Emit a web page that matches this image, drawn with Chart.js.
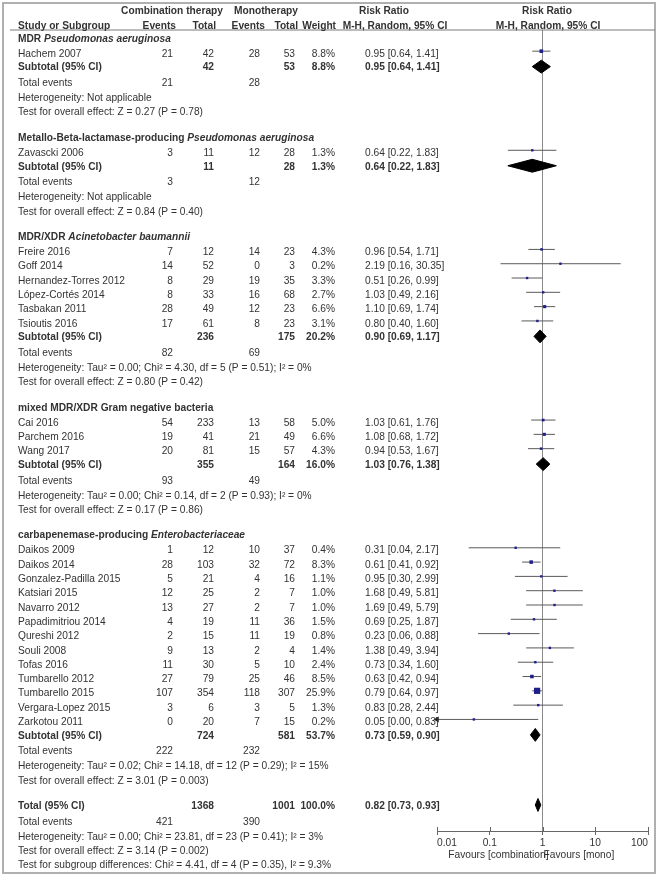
<!DOCTYPE html>
<html>

<head>
    <title>Forest plot - combination vs monotherapy</title>
    <script src="https://cdn.jsdelivr.net/npm/chart.js"></script>
    <style>
        body { margin: 0; background: #fff; }
        #wrap { width: 658px; height: 876px; position: relative; }
    </style>
</head>

<body>

    <div id="wrap">
        <canvas id="forest"></canvas>
    </div>

    <script>
        // studies, in the order they appear
        const studies = ['Hachem 2007', 'Zavascki 2006', 'Freire 2016', 'Goff 2014', 'Hernandez-Torres 2012',
            'López-Cortés 2014', 'Tasbakan 2011', 'Tsioutis 2016', 'Cai 2016', 'Parchem 2016', 'Wang 2017',
            'Daikos 2009', 'Daikos 2014', 'Gonzalez-Padilla 2015', 'Katsiari 2015', 'Navarro 2012',
            'Papadimitriou 2014', 'Qureshi 2012', 'Souli 2008', 'Tofas 2016', 'Tumbarello 2012',
            'Tumbarello 2015', 'Vergara-Lopez 2015', 'Zarkotou 2011'];
        const studyGroup = [0, 1, 2, 2, 2, 2, 2, 2, 3, 3, 3, 4, 4, 4, 4, 4, 4, 4, 4, 4, 4, 4, 4, 4];
        const combEvents = [21, 3, 7, 14, 8, 8, 28, 17, 54, 19, 20, 1, 28, 5, 12, 13, 4, 2, 9, 11, 27, 107, 3, 0];
        const combTotal = [42, 11, 12, 52, 29, 33, 49, 61, 233, 41, 81, 12, 103, 21, 25, 27, 19, 15, 13, 30, 79, 354, 6, 20];
        const monoEvents = [28, 12, 14, 0, 19, 16, 12, 8, 13, 21, 15, 10, 32, 4, 2, 2, 11, 11, 2, 5, 25, 118, 3, 7];
        const monoTotal = [53, 28, 23, 3, 35, 68, 23, 23, 58, 49, 57, 37, 72, 16, 7, 7, 36, 19, 4, 10, 46, 307, 5, 15];
        const weights = [8.8, 1.3, 4.3, 0.2, 3.3, 2.7, 6.6, 3.1, 5.0, 6.6, 4.3, 0.4, 8.3, 1.1, 1.0, 1.0, 1.5, 0.8, 1.4, 2.4, 8.5, 25.9, 1.3, 0.2];
        const rr = [0.95, 0.64, 0.96, 2.19, 0.51, 1.03, 1.10, 0.80, 1.03, 1.08, 0.94, 0.31, 0.61, 0.95, 1.68, 1.69, 0.69, 0.23, 1.38, 0.73, 0.63, 0.79, 0.83, 0.05];
        const rrLow = [0.64, 0.22, 0.54, 0.16, 0.26, 0.49, 0.69, 0.40, 0.61, 0.68, 0.53, 0.04, 0.41, 0.30, 0.49, 0.49, 0.25, 0.06, 0.49, 0.34, 0.42, 0.64, 0.28, 0.00];
        const rrHigh = [1.41, 1.83, 1.71, 30.35, 0.99, 2.16, 1.74, 1.60, 1.76, 1.72, 1.67, 2.17, 0.92, 2.99, 5.81, 5.79, 1.87, 0.88, 3.94, 1.60, 0.94, 0.97, 2.44, 0.83];

        // subgroups: [plain part, italic part]
        const groupNames = [['MDR ', 'Pseudomonas aeruginosa'], ['Metallo-Beta-lactamase-producing ', 'Pseudomonas aeruginosa'],
            ['MDR/XDR ', 'Acinetobacter baumannii'], ['mixed MDR/XDR Gram negative bacteria', ''],
            ['carbapenemase-producing ', 'Enterobacteriaceae']];
        const groupCombTotal = [42, 11, 236, 355, 724];
        const groupMonoTotal = [53, 28, 175, 164, 581];
        const groupCombEvents = [21, 3, 82, 93, 222];
        const groupMonoEvents = [28, 12, 69, 49, 232];
        const groupWeight = [8.8, 1.3, 20.2, 16.0, 53.7];
        const groupRR = [0.95, 0.64, 0.90, 1.03, 0.73];
        const groupLow = [0.64, 0.22, 0.69, 0.76, 0.59];
        const groupHigh = [1.41, 1.83, 1.17, 1.38, 0.90];
        const groupHet = ['Not applicable', 'Not applicable',
            'Tau² = 0.00; Chi² = 4.30, df = 5 (P = 0.51); I² = 0%',
            'Tau² = 0.00; Chi² = 0.14, df = 2 (P = 0.93); I² = 0%',
            'Tau² = 0.02; Chi² = 14.18, df = 12 (P = 0.29); I² = 15%'];
        const groupTest = ['Z = 0.27 (P = 0.78)', 'Z = 0.84 (P = 0.40)', 'Z = 0.80 (P = 0.42)', 'Z = 0.17 (P = 0.86)', 'Z = 3.01 (P = 0.003)'];

        // overall
        const totalComb = 1368, totalMono = 1001, totalWeight = 100.0;
        const totalRR = 0.82, totalLow = 0.73, totalHigh = 0.93;
        const totalCombEvents = 421, totalMonoEvents = 390;
        const totalHet = 'Tau² = 0.00; Chi² = 23.81, df = 23 (P = 0.41); I² = 3%';
        const totalTest = 'Z = 3.14 (P = 0.002)';
        const subgroupTest = 'Chi² = 4.41, df = 4 (P = 0.35), I² = 9.3%';

        const xTicks = [0.01, 0.1, 1, 10, 100];

        // ---- row layout (in row units, 0 = line under header) ----
        const rows = [];
        let pos = 0.63;
        groupNames.forEach((g, gi) => {
            if (gi > 0) pos += 1.78;
            rows.push({ kind: 'head', g: gi, y: pos });
            pos += 1.05;
            const members = studies.map((s, i) => i).filter(i => studyGroup[i] === gi);
            members.forEach((i, k) => {
                if (k > 0) pos += 1;
                rows.push({ kind: 'study', i: i, y: pos });
            });
            pos += 0.95; rows.push({ kind: 'sub', g: gi, y: pos });
            pos += 1.1; rows.push({ kind: 'events', g: gi, y: pos });
            pos += 1.05; rows.push({ kind: 'het', g: gi, y: pos });
            pos += 1.0; rows.push({ kind: 'test', g: gi, y: pos });
        });
        pos += 1.75; rows.push({ kind: 'total', y: pos });
        pos += 1.1; rows.push({ kind: 'tevents', y: pos });
        pos += 1.05; rows.push({ kind: 'thet', y: pos });
        pos += 1.0; rows.push({ kind: 'ttest', y: pos });
        pos += 1.0; rows.push({ kind: 'tsub', y: pos });

        const Y_MAX = 56;
        const X_MIN = 0.01, X_MAX = 100;
        const STUDY_SHIFT = -0.2;
        const DIAMOND_SHIFT = -0.07;
        const DIAMOND_HALF = 0.45;

        const rowOf = (kind, key, val) => rows.find(r => r.kind === kind && (key ? r[key] === val : true));

        // ---- datasets ----
        const datasets = [];

        // line of no effect (drawn behind everything)
        datasets.push({
            data: [{ x: 1, y: 0 }, { x: 1, y: Y_MAX }],
            showLine: true, borderColor: '#8a8a8a', borderWidth: 1, pointRadius: 0, clip: false, order: 10
        });

        // confidence intervals
        studies.forEach((s, i) => {
            const y = rowOf('study', 'i', i).y + STUDY_SHIFT;
            datasets.push({
                data: [{ x: Math.max(rrLow[i], X_MIN), y: y }, { x: Math.min(rrHigh[i], X_MAX), y: y }],
                showLine: true, borderColor: '#5a5a5a', borderWidth: 1, pointRadius: 0, clip: false, order: 5
            });
        });

        // arrows for intervals running off the scale
        const arrowData = [];
        studies.forEach((s, i) => {
            if (rrLow[i] < X_MIN) arrowData.push({ x: X_MIN, y: rowOf('study', 'i', i).y + STUDY_SHIFT });
        });
        datasets.push({
            data: arrowData, pointStyle: 'triangle', rotation: -90, pointRadius: 3.5,
            backgroundColor: '#222', borderColor: '#222', borderWidth: 0, clip: false, order: 2
        });

        // study squares (area ~ weight)
        datasets.push({
            data: studies.map((s, i) => ({ x: rr[i], y: rowOf('study', 'i', i).y + STUDY_SHIFT })),
            pointStyle: 'rect',
            pointRadius: weights.map(w => Math.max(2.4, 1.22 * Math.sqrt(w)) / Math.SQRT2),
            backgroundColor: '#1f1f8c', borderColor: '#1f1f8c', borderWidth: 0, clip: false, order: 1
        });

        // diamonds
        function diamond(est, lo, hi, y) {
            y = y + DIAMOND_SHIFT;
            return {
                data: [{ x: lo, y: y }, { x: est, y: y - DIAMOND_HALF }, { x: hi, y: y }, { x: est, y: y + DIAMOND_HALF }, { x: lo, y: y }],
                showLine: true, fill: 'shape', backgroundColor: '#000', borderColor: '#000',
                borderWidth: 1, pointRadius: 0, tension: 0, clip: false, order: 1
            };
        }
        groupNames.forEach((g, gi) => {
            datasets.push(diamond(groupRR[gi], groupLow[gi], groupHigh[gi], rowOf('sub', 'g', gi).y));
        });
        datasets.push(diamond(totalRR, totalLow, totalHigh, rowOf('total').y));

        // ---- table text plugin ----
        const FONT = '"Liberation Sans", Arial, sans-serif';
        const FS = '10.2px ';
        const TXT = '#333';
        const col = { name: 18, cEv: 173, cTot: 214, mEv: 260, mTot: 295, wt: 335, rr: 365 };

        const tablePlugin = {
            id: 'tablePlugin',
            afterDraw(chart) {
                const ctx = chart.ctx;
                const ys = chart.scales.y;
                const xs = chart.scales.x;
                const area = chart.chartArea;
                const py = v => ys.getPixelForValue(v);

                ctx.save();
                // frame
                ctx.strokeStyle = '#b0b0b0';
                ctx.lineWidth = 2;
                ctx.strokeRect(3, 3, 652, 870);
                // header rule
                ctx.strokeStyle = '#7a7a7a';
                ctx.lineWidth = 1.2;
                ctx.beginPath();
                ctx.moveTo(10, py(0));
                ctx.lineTo(655, py(0));
                ctx.stroke();

                ctx.fillStyle = TXT;
                ctx.textBaseline = 'middle';
                const put = (t, x, y, align, bold, italic) => {
                    ctx.font = (italic ? 'italic ' : '') + (bold ? 'bold ' : '') + FS + FONT;
                    ctx.textAlign = align || 'left';
                    ctx.fillText(t, x, y);
                };

                // header
                const h1 = py(-1.32), h2 = py(-0.3);
                put('Combination therapy', 172, h1, 'center', true);
                put('Monotherapy', 266, h1, 'center', true);
                put('Risk Ratio', 384, h1, 'center', true);
                put('Risk Ratio', 547, h1, 'center', true);
                put('Study or Subgroup', col.name, h2, 'left', true);
                put('Events', 176, h2, 'right', true);
                put('Total', 216, h2, 'right', true);
                put('Events', 265, h2, 'right', true);
                put('Total', 298, h2, 'right', true);
                put('Weight', 336, h2, 'right', true);
                put('M-H, Random, 95% CI', 395, h2, 'center', true);
                put('M-H, Random, 95% CI', 548, h2, 'center', true);

                const ci = (e, l, h) => e.toFixed(2) + ' [' + l.toFixed(2) + ', ' + h.toFixed(2) + ']';

                rows.forEach(r => {
                    const y = py(r.y);
                    if (r.kind === 'head') {
                        const [plain, ital] = groupNames[r.g];
                        put(plain, col.name, y, 'left', true);
                        ctx.font = 'bold ' + FS + FONT;
                        const w = ctx.measureText(plain).width;
                        if (ital) put(ital, col.name + w, y, 'left', true, true);
                    } else if (r.kind === 'study') {
                        const i = r.i;
                        put(studies[i], col.name, y);
                        put(String(combEvents[i]), col.cEv, y, 'right');
                        put(String(combTotal[i]), col.cTot, y, 'right');
                        put(String(monoEvents[i]), col.mEv, y, 'right');
                        put(String(monoTotal[i]), col.mTot, y, 'right');
                        put(weights[i].toFixed(1) + '%', col.wt, y, 'right');
                        put(ci(rr[i], rrLow[i], rrHigh[i]), col.rr, y, 'left');
                    } else if (r.kind === 'sub') {
                        const g = r.g;
                        put('Subtotal (95% CI)', col.name, y, 'left', true);
                        put(String(groupCombTotal[g]), col.cTot, y, 'right', true);
                        put(String(groupMonoTotal[g]), col.mTot, y, 'right', true);
                        put(groupWeight[g].toFixed(1) + '%', col.wt, y, 'right', true);
                        put(ci(groupRR[g], groupLow[g], groupHigh[g]), col.rr, y, 'left', true);
                    } else if (r.kind === 'events') {
                        put('Total events', col.name, y);
                        put(String(groupCombEvents[r.g]), col.cEv, y, 'right');
                        put(String(groupMonoEvents[r.g]), col.mEv, y, 'right');
                    } else if (r.kind === 'het') {
                        put('Heterogeneity: ' + groupHet[r.g], col.name, y);
                    } else if (r.kind === 'test') {
                        put('Test for overall effect: ' + groupTest[r.g], col.name, y);
                    } else if (r.kind === 'total') {
                        put('Total (95% CI)', col.name, y, 'left', true);
                        put(String(totalComb), col.cTot, y, 'right', true);
                        put(String(totalMono), col.mTot, y, 'right', true);
                        put(totalWeight.toFixed(1) + '%', col.wt, y, 'right', true);
                        put(ci(totalRR, totalLow, totalHigh), col.rr, y, 'left', true);
                    } else if (r.kind === 'tevents') {
                        put('Total events', col.name, y);
                        put(String(totalCombEvents), col.cEv, y, 'right');
                        put(String(totalMonoEvents), col.mEv, y, 'right');
                    } else if (r.kind === 'thet') {
                        put('Heterogeneity: ' + totalHet, col.name, y);
                    } else if (r.kind === 'ttest') {
                        put('Test for overall effect: ' + totalTest, col.name, y);
                    } else if (r.kind === 'tsub') {
                        put('Test for subgroup differences: ' + subgroupTest, col.name, y);
                    }
                });

                // upper half of the axis ticks
                ctx.strokeStyle = '#666';
                ctx.lineWidth = 1;
                xTicks.forEach(v => {
                    const x = Math.round(xs.getPixelForValue(v)) + 0.5;
                    ctx.beginPath();
                    ctx.moveTo(x, area.bottom - 4);
                    ctx.lineTo(x, area.bottom);
                    ctx.stroke();
                });

                // axis captions
                const x1 = xs.getPixelForValue(1);
                put('Favours [combination]', x1 + 6, area.bottom + 24, 'right');
                put('Favours [mono]', x1 + 1, area.bottom + 24, 'left');
                ctx.restore();
            }
        };

        const config = {
            type: 'scatter',
            data: { datasets: datasets },
            options: {
                responsive: true,
                maintainAspectRatio: false,
                animation: false,
                layout: { padding: { left: 437, right: 10, top: 30, bottom: 0 } },
                plugins: {
                    legend: { display: false },
                    tooltip: { enabled: false }
                },
                scales: {
                    x: {
                        type: 'logarithmic',
                        min: X_MIN,
                        max: X_MAX,
                        afterBuildTicks: (scale) => { scale.ticks = xTicks.map(v => ({ value: v })); },
                        afterFit: (scale) => { scale.height = 45; },
                        grid: { drawOnChartArea: false, drawTicks: true, tickLength: 4, color: '#666' },
                        border: { color: '#666', width: 1 },
                        ticks: {
                            autoSkip: false, maxRotation: 0, align: 'inner', padding: 2,
                            color: '#333', font: { size: 10.2, family: FONT },
                            callback: (v) => String(v)
                        }
                    },
                    y: {
                        type: 'linear',
                        display: false,
                        reverse: true,
                        min: 0,
                        max: Y_MAX
                    }
                }
            },
            plugins: [tablePlugin]
        };

        const forest = new Chart(document.getElementById('forest'), config);
    </script>

</body>

</html>
